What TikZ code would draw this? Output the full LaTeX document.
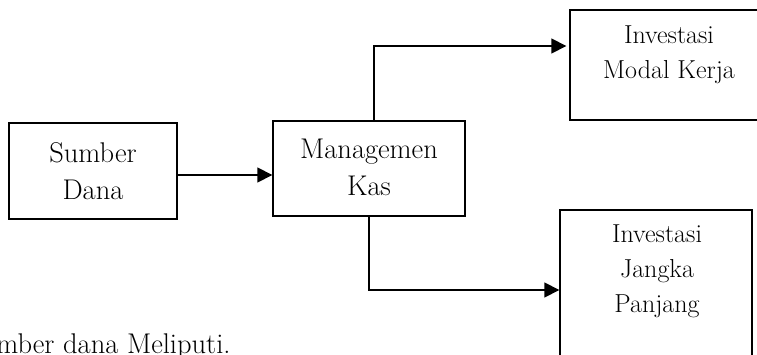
\documentclass[tikz,border=0pt]{standalone}
\usetikzlibrary{arrows.meta}
\begin{document}
\begin{tikzpicture}[x=1pt,y=-1pt,
  box/.style={draw,line width=1.4pt,inner sep=0pt},
  lbl/.style={align=center,inner sep=0pt,font=\fontsize{28.5}{37}\selectfont},
  lbls/.style={align=center,inner sep=0pt,font=\fontsize{26}{35}\selectfont},
  arr/.style={line width=1.6pt,-{Triangle[length=15pt,width=15pt]}}]
\useasboundingbox (0,0) rectangle (757,355);
\clip (0,0) rectangle (757,355);
\node[box,minimum width=168pt,minimum height=96pt] (sd) at (93,171) {};
\node[box,minimum width=192pt,minimum height=95pt] (mk) at (369,168.5) {};
\node[box,minimum width=220pt,minimum height=110pt] (imk) at (680,65) {};
\node[box,minimum width=192pt,minimum height=160pt] (ijp) at (656,290) {};
\node[lbl] (sdt) at (93,171) {Sumber\\Dana};
\node[lbl] (mkt) at (369,167) {Managemen\\Kas};
\node[lbls] (imkt) at (669,55) {Investasi\\Modal Kerja};
\node[lbls] (ijpt) at (657,271) {Investasi\\Jangka\\Panjang};
\node[anchor=base west,inner sep=0pt,font=\fontsize{28.5}{30}\selectfont] (txt) at (-33,353) {Sumber dana Meliputi.};
\draw[arr] ([yshift=-4pt]sd.east) -- ([yshift=-4pt]sd.east -| mk.west);
\draw[arr,shorten >=3pt] ([xshift=5pt]mk.north) |- ([yshift=19pt]imk.west);
\draw[arr] (mk.south) |- (ijp.west);
\end{tikzpicture}
\end{document}
